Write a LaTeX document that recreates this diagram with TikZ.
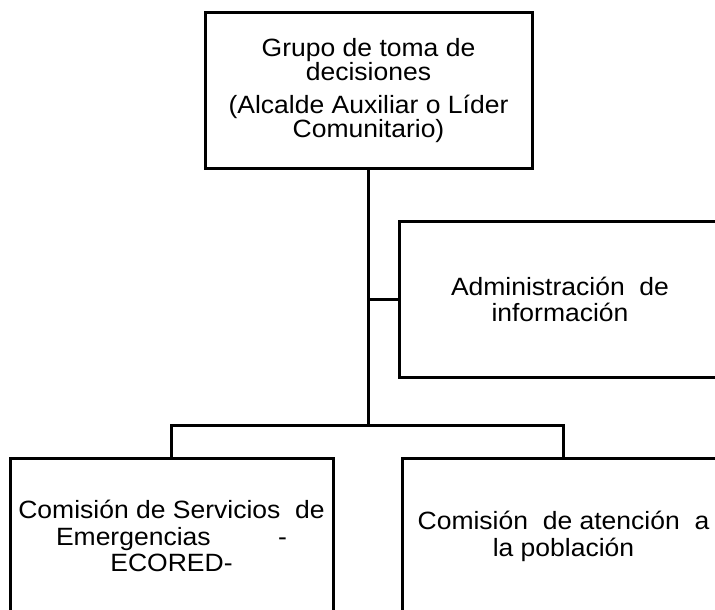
\documentclass[tikz,border=0pt]{standalone}
\usepackage{fontspec}
\setmainfont{Liberation Sans}[FakeStretch=1.06]
\usepackage{tikz}
\usetikzlibrary{positioning}

\newcommand{\letra}[1]{\fontsize{25}{#1}\selectfont\lineskiplimit=-20pt\relax}

\begin{document}
\begin{tikzpicture}[x=1pt, y=-1pt,
        caja/.style={draw=black, line width=3pt, inner sep=0pt, align=center},
        linea/.style={black, line width=3pt}]
        \useasboundingbox (0,0) rectangle (715,610);
        \clip (0,0) rectangle (715,610);
        \node[caja, minimum width=327pt, minimum height=155pt,
            font=\letra{24}] (decision)
            at (368.5, 90.5) {Grupo de toma de\\ decisiones\\[9pt]
            (Alcalde Auxiliar o L\'ider\\ Comunitario)};
        \node[caja, minimum width=322pt, minimum height=156pt,
            font=\letra{26}] (info)
            at (560, 299) {Administraci\'on\ \ de\\ informaci\'on};
        \node[caja, minimum width=323pt, minimum height=156pt,
            font=\letra{26.5}] (ecored)
            at (171.5, 536) {Comisi\'on de Servicios\ \ de\\
            Emergencias\hspace{2.7em}-\\ ECORED-};
        \node[caja, minimum width=323pt, minimum height=156pt,
            font=\letra{27}] (poblacion)
            at (563.5, 536) {Comisi\'on\ \ de atenci\'on\ \ a\\ la poblaci\'on};
        \coordinate (bus) at (decision.south |- 0,425);
        \draw[linea] (decision.south) -- (bus);
        \draw[linea] (decision.south |- info.west) -- (info.west);
        \draw[linea] (ecored.north) |- (bus) -| (poblacion.north);
\end{tikzpicture}
\end{document}
